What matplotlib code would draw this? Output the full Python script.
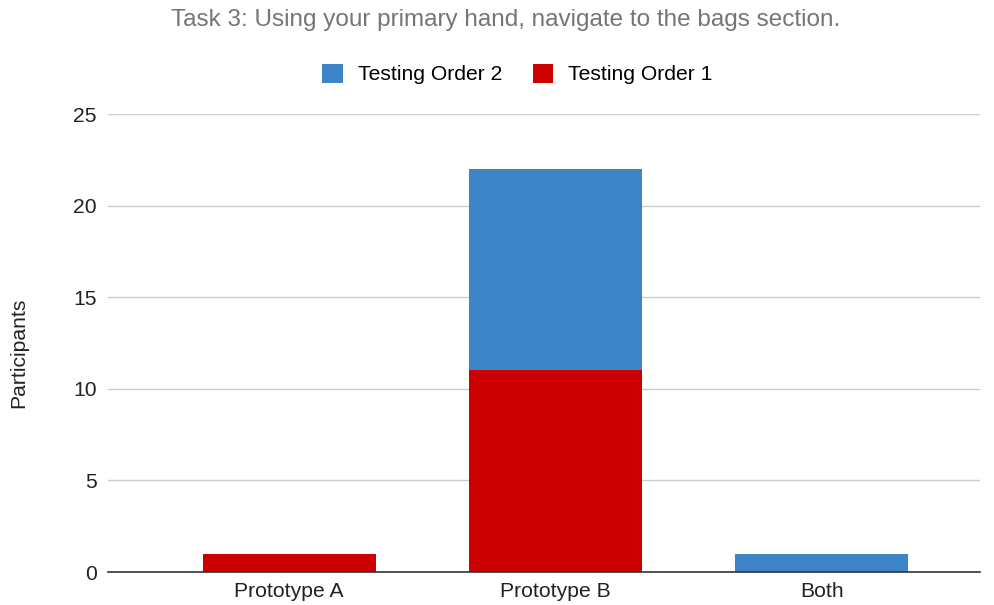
import matplotlib
matplotlib.use("Agg")
import matplotlib.pyplot as plt
from matplotlib.patches import Patch

plt.rcParams['font.family'] = ['Liberation Sans', 'DejaVu Sans']

categories = ["Prototype A", "Prototype B", "Both"]
order1 = [1, 11, 0]
order2 = [0, 11, 1]
y_ticks = [0, 5, 10, 15, 20, 25]

blue = "#3d85c6"
red = "#cc0000"
fs = 15.2

fig = plt.figure(figsize=(9.95, 6.05), dpi=100)
ax = fig.add_axes([108 / 995, 1 - 572 / 605, (980 - 108) / 995, (572 - 114) / 605])

x = list(range(len(categories)))
w = 0.65
ax.bar(x, order1, width=w, color=red, zorder=3)
ax.bar(x, order2, width=w, bottom=order1, color=blue, zorder=3)

ax.set_xlim(-0.68, 2.595)
ax.set_ylim(0, 25)
ax.set_yticks(y_ticks)
ax.set_xticks(x)
ax.set_xticklabels(categories)
ax.tick_params(axis='both', length=0, labelsize=fs, colors="#222222")
ax.tick_params(axis='y', pad=8)
ax.tick_params(axis='x', pad=7)
ax.grid(axis='y', color="#cccccc", linewidth=1, zorder=0)
for s in ['top', 'right', 'left']:
    ax.spines[s].set_visible(False)
ax.spines['bottom'].set_color("#333333")
ax.spines['bottom'].set_linewidth(1.2)
ax.spines['bottom'].set_zorder(4)

# axis title placed in figure pixels, left of the tick labels
fig.text(19 / 995, 1 - 353 / 605, "Participants", rotation=90, ha='center', va='center',
         fontsize=fs, color="#222222")

fig.text(506 / 995, 1 - 20 / 605, "Task 3: Using your primary hand, navigate to the bags section.",
         ha='center', va='center', fontsize=17.5, color="#757575")

handles = [Patch(facecolor=blue, edgecolor='none', label="Testing Order 2"),
           Patch(facecolor=red, edgecolor='none', label="Testing Order 1")]
fig.legend(handles=handles, loc='center', bbox_to_anchor=(517.5 / 995, 1 - 74 / 605), ncol=2,
           frameon=False, fontsize=fs, handlelength=0.96, handleheight=1.0,
           handletextpad=0.72, columnspacing=1.44, borderpad=0, borderaxespad=0)

fig.savefig("out.png", dpi=100)
